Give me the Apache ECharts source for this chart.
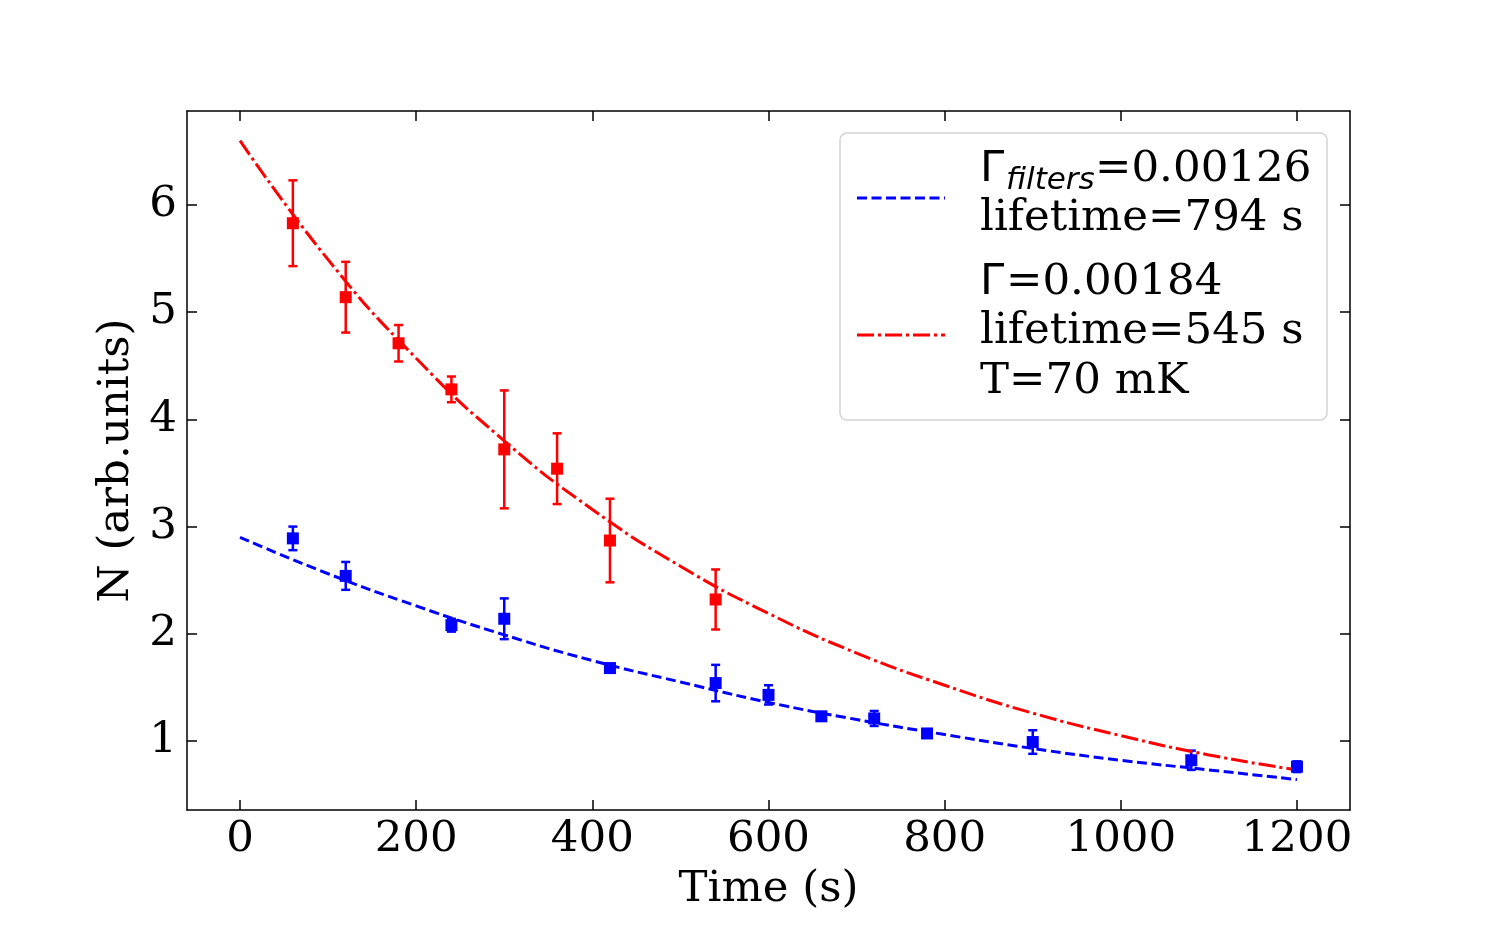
<!DOCTYPE html>
<html>
<head>
<meta charset="utf-8">
<script src="https://cdn.jsdelivr.net/npm/echarts@6/dist/echarts.min.js"></script>
<style>html,body{margin:0;padding:0;background:#fff;}#c{width:1500px;height:928px;}</style>
</head>
<body>
<div id="c"></div>
<script>
// ---- data ----
const redT = [60, 120, 180, 240, 300, 360, 420, 540];
const redN = [5.83, 5.14, 4.71, 4.28, 3.72, 3.54, 2.87, 2.32];
const redErr = [0.40, 0.33, 0.17, 0.12, 0.55, 0.33, 0.39, 0.28];

const blueT = [60, 120, 240, 300, 420, 540, 600, 660, 720, 780, 900, 1080, 1200];
const blueN = [2.89, 2.54, 2.08, 2.14, 1.68, 1.54, 1.43, 1.23, 1.21, 1.07, 0.99, 0.82, 0.76];
const blueErr = [0.11, 0.13, 0.06, 0.19, 0.03, 0.17, 0.09, 0.03, 0.07, 0.03, 0.11, 0.09, 0.05];

const fitT = [0, 100, 200, 300, 400, 500, 600, 700, 800, 900, 1000, 1100, 1200];
const blueFit = [2.90, 2.56, 2.26, 1.99, 1.75, 1.55, 1.36, 1.20, 1.06, 0.93, 0.82, 0.73, 0.64];
const redFit = [6.60, 5.49, 4.57, 3.80, 3.16, 2.63, 2.19, 1.82, 1.52, 1.26, 1.05, 0.87, 0.73];

const xTicks = [0, 200, 400, 600, 800, 1000, 1200];
const yTicks = [1, 2, 3, 4, 5, 6];

const FONT = '"DejaVu Serif", serif';
const SANS = '"DejaVu Sans", sans-serif';
const FS = 43.5;
const RED = '#ff0000', BLUE = '#0000ff';

function pairs(xs, ys) { return xs.map((x, i) => [x, ys[i]]); }
function errData(xs, ys, es) { return xs.map((x, i) => [x, ys[i] - es[i], ys[i] + es[i]]); }

function errRender(color) {
  return function (params, api) {
    const x = api.value(0);
    const lo = api.coord([x, api.value(1)]);
    const hi = api.coord([x, api.value(2)]);
    const w = 4.5;
    const st = { stroke: color, lineWidth: 2.5 };
    return {
      type: 'group',
      children: [
        { type: 'line', shape: { x1: lo[0], y1: lo[1], x2: hi[0], y2: hi[1] }, style: st },
        { type: 'line', shape: { x1: lo[0] - w, y1: lo[1], x2: lo[0] + w, y2: lo[1] }, style: st },
        { type: 'line', shape: { x1: hi[0] - w, y1: hi[1], x2: hi[0] + w, y2: hi[1] }, style: st }
      ]
    };
  };
}

const axisLineStyle = { color: '#000', width: 1.5 };
const tickStyle = { color: '#000', width: 1.5 };
const xMin = -60.2, xMax = 1260.2, yMin = 0.356, yMax = 6.877;
const plain = v => String(v);

function txt(x, y, s, font) {
  return { type: 'text', z: 101, x: x, y: y, style: { text: s, font: font, fill: '#000', textAlign: 'left', textVerticalAlign: 'middle' } };
}

const chart = echarts.init(document.getElementById('c'), null, { renderer: 'canvas' });
chart.setOption({
  animation: false,
  backgroundColor: '#fff',
  grid: { left: 187, right: 150, top: 111, bottom: 118, containLabel: false },
  xAxis: [
    {
      type: 'value', min: xMin, max: xMax, position: 'bottom',
      axisLine: { show: true, onZero: false, lineStyle: axisLineStyle },
      axisTick: { show: true, inside: true, length: 10, lineStyle: tickStyle, customValues: xTicks },
      axisLabel: { show: true, customValues: xTicks, formatter: plain, color: '#000', fontFamily: FONT, fontSize: FS, margin: 8 },
      splitLine: { show: false },
      name: 'Time (s)', nameLocation: 'middle', nameGap: 58,
      nameTextStyle: { color: '#000', fontFamily: FONT, fontSize: FS }
    },
    {
      type: 'value', min: xMin, max: xMax, position: 'top',
      axisLine: { show: true, onZero: false, lineStyle: axisLineStyle },
      axisTick: { show: true, inside: true, length: 10, lineStyle: tickStyle, customValues: xTicks },
      axisLabel: { show: false }, splitLine: { show: false }
    }
  ],
  yAxis: [
    {
      type: 'value', min: yMin, max: yMax, position: 'left',
      axisLine: { show: true, onZero: false, lineStyle: axisLineStyle },
      axisTick: { show: true, inside: true, length: 10, lineStyle: tickStyle, customValues: yTicks },
      axisLabel: { show: true, customValues: yTicks, formatter: plain, color: '#000', fontFamily: FONT, fontSize: FS, margin: 10 },
      splitLine: { show: false },
      name: 'N (arb.units)', nameLocation: 'middle', nameGap: 43, nameRotate: 90,
      nameTextStyle: { color: '#000', fontFamily: FONT, fontSize: FS }
    },
    {
      type: 'value', min: yMin, max: yMax, position: 'right',
      axisLine: { show: true, onZero: false, lineStyle: axisLineStyle },
      axisTick: { show: true, inside: true, length: 10, lineStyle: tickStyle, customValues: yTicks },
      axisLabel: { show: false }, splitLine: { show: false }
    }
  ],
  series: [
    {
      type: 'custom', name: 'redErr', data: errData(redT, redN, redErr),
      renderItem: errRender(RED), encode: { x: 0, y: [1, 2] }, z: 3, silent: true
    },
    {
      type: 'custom', name: 'blueErr', data: errData(blueT, blueN, blueErr),
      renderItem: errRender(BLUE), encode: { x: 0, y: [1, 2] }, z: 3, silent: true
    },
    {
      type: 'line', name: 'redFit', data: pairs(fitT, redFit), smooth: true, showSymbol: false,
      lineStyle: { color: RED, width: 3, type: [17, 4, 3, 4] }, z: 4
    },
    {
      type: 'line', name: 'blueFit', data: pairs(fitT, blueFit), smooth: true, showSymbol: false,
      lineStyle: { color: BLUE, width: 3, type: [10, 4.5] }, z: 4
    },
    {
      type: 'scatter', name: 'red', data: pairs(redT, redN), symbol: 'rect', symbolSize: 12,
      itemStyle: { color: RED, opacity: 1 }, z: 5
    },
    {
      type: 'scatter', name: 'blue', data: pairs(blueT, blueN), symbol: 'rect', symbolSize: 12,
      itemStyle: { color: BLUE, opacity: 1 }, z: 5
    }
  ],
  graphic: [
    {
      type: 'rect', z: 100,
      shape: { x: 840, y: 133, width: 487, height: 287, r: 7 },
      style: { fill: 'rgba(255,255,255,0.85)', stroke: '#d4d4d4', lineWidth: 1.5 }
    },
    {
      type: 'line', z: 101,
      shape: { x1: 857, y1: 198, x2: 945, y2: 198 },
      style: { stroke: BLUE, lineWidth: 3, lineDash: [10, 4.5] }
    },
    {
      type: 'line', z: 101,
      shape: { x1: 857, y1: 335, x2: 945, y2: 335 },
      style: { stroke: RED, lineWidth: 3, lineDash: [17, 4, 3, 4] }
    },
    txt(980, 170, 'Γ', FS + 'px ' + SANS),
    txt(1006, 181, 'filters', 'italic 31px ' + SANS),
    txt(1095, 170, '=0.00126', FS + 'px ' + FONT),
    txt(980, 219, 'lifetime=794 s', FS + 'px ' + FONT),
    txt(980, 283, 'Γ', FS + 'px ' + SANS),
    txt(1006, 283, '=0.00184', FS + 'px ' + FONT),
    txt(980, 332, 'lifetime=545 s', FS + 'px ' + FONT),
    txt(980, 382, 'T=70 mK', FS + 'px ' + FONT)
  ]
});
</script>
</body>
</html>
